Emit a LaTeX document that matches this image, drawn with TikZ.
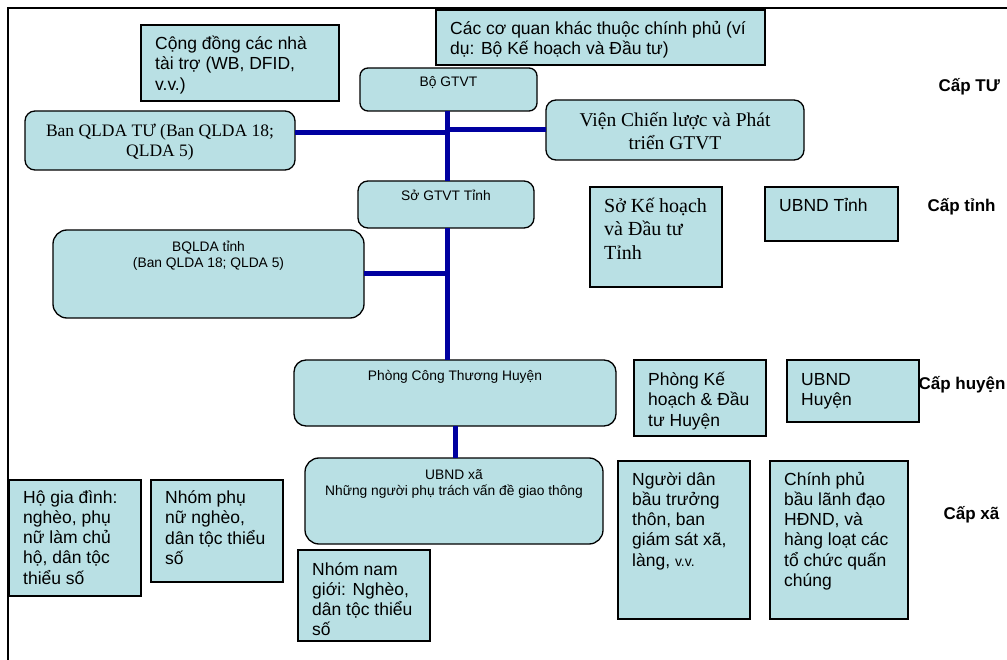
\documentclass[tikz,border=0pt]{standalone}
\usepackage{fontspec}
\setmainfont{Liberation Sans}
\newfontfamily\timesfont{Liberation Serif}
\usepackage{tikz}
\usetikzlibrary{positioning}

\definecolor{boxfill}{RGB}{185,224,228}
\definecolor{linkblue}{RGB}{0,0,160}

% fixed height of the first line in a box
\newcommand{\vs}[1][17pt]{\rule{0pt}{#1}}

\tikzset{
  box/.style={draw=black, line width=1.3pt, fill=boxfill, inner sep=0pt, outer sep=0pt, anchor=north west},
  rbox/.style={box, rounded corners=10pt},
  sz/.style 2 args={minimum width=#1pt, minimum height=#2pt},
  note/.style={anchor=north west, align=left, inner xsep=14pt, inner ysep=7.5pt,
    font=\fontsize{17.5}{20.2}\selectfont},
  serifnote/.style={note, inner ysep=5.5pt, font=\timesfont\fontsize{20}{23.3}\selectfont},
  small/.style={anchor=north, align=center, inner sep=6.5pt,
    font=\fontsize{13.8}{16}\selectfont},
  level/.style={anchor=base west, font=\bfseries\fontsize{17}{20}\selectfont},
  conn/.style={draw=linkblue, line width=5pt}
}

\begin{document}
\begin{tikzpicture}[x=1pt, y=-1pt]
  \useasboundingbox (0,0) rectangle (1007,660);
  % frame
  \draw[line width=2pt] (8,660) -- (8,8) -- (1007,8);

  % central level
  \node[box, sz={198}{76}] (donor) at (141,25) {};
  \node[note] (donor-t) at (donor.north west) {\vs Cộng đồng các nhà\\tài trợ (WB, DFID,\\v.v.)};
  \node[box, sz={329}{55}] (govt) at (436,10) {};
  \node[note] (govt-t) at (govt.north west) {\vs Các cơ quan khác thuộc chính phủ (ví\\dụ: Bộ Kế hoạch và Đầu tư)};
  \node[rbox, sz={177}{43}, rounded corners=8pt] (bo) at (360,68) {};
  \node[small] (bo-t) at (bo.north) {\vs[12pt]Bộ GTVT};
  \node[rbox, sz={270}{59}, align=center, font=\timesfont\fontsize{17.5}{20}\selectfont] (bq) at (25,111)
    {\vs[15pt]Ban QLDA TƯ (Ban QLDA 18;\\QLDA 5)};
  \node[rbox, sz={258}{60}, align=center, font=\timesfont\fontsize{19.5}{23}\selectfont] (vien) at (546,100)
    {\vs[17pt]Viện Chiến lược và Phát\\triển GTVT};

  % province level
  \node[rbox, sz={176}{47}] (so) at (358,181) {};
  \node[small, inner ysep=7pt] (so-t) at (so.north) {\vs[12pt]Sở GTVT Tỉnh};
  \node[rbox, sz={311}{88}, rounded corners=14pt] (bqt) at (53,230) {};
  \node[small, inner ysep=9.5pt] (bqt-t) at (bqt.north) {\vs[12pt]BQLDA tỉnh\\(Ban QLDA 18; QLDA 5)};
  \node[box, sz={132}{100}] (skh) at (590,187) {};
  \node[serifnote] (skh-t) at (skh.north west) {\vs[20pt]Sở Kế hoạch\\và Đầu tư\\Tỉnh};
  \node[box, sz={133}{54}] (ubt) at (765,187) {};
  \node[note] (ubt-t) at (ubt.north west) {\vs UBND Tỉnh};

  % district level
  \node[rbox, sz={322}{66}, rounded corners=12pt] (pct) at (294,360) {};
  \node[small, inner ysep=8pt] (pct-t) at (pct.north) {\vs[12pt]Phòng Công Thương Huyện};
  \node[box, sz={132}{76}] (pkh) at (634,360) {};
  \node[note, inner ysep=8.5pt] (pkh-t) at (pkh.north west) {\vs Phòng Kế\\hoạch \& Đầu\\tư Huyện};
  \node[box, sz={132}{62}] (ubh) at (787,360) {};
  \node[note, inner ysep=8.5pt] (ubh-t) at (ubh.north west) {\vs UBND\\Huyện};

  % commune level
  \node[rbox, sz={298}{86}, rounded corners=14pt] (xa) at (305,458) {};
  \node[small, inner ysep=9pt] (xa-t) at (xa.north) {\vs[12pt]UBND xã\\Những người phụ trách vấn đề giao thông};
  \node[box, sz={132}{158}] (dan) at (618,461) {};
  \node[note, inner ysep=7pt] (dan-t) at (dan.north west) {\vs Người dân\\bầu trưởng\\thôn, ban\\giám sát xã,\\làng, {\fontsize{14}{20}\selectfont v.v.}};
  \node[box, sz={138}{158}] (cp) at (770,461) {};
  \node[note, inner ysep=7pt] (cp-t) at (cp.north west) {\vs Chính phủ\\bầu lãnh đạo\\HĐND, và\\hàng loạt các\\tổ chức quấn\\chúng};
  \node[box, sz={132}{116}] (hgd) at (9,480) {};
  \node[note, inner ysep=6pt] (hgd-t) at (hgd.north west) {\vs Hộ gia đình:\\nghèo, phụ\\nữ làm chủ\\hộ, dân tộc\\thiểu số};
  \node[box, sz={132}{102}] (pn) at (151,480) {};
  \node[note, inner ysep=6.5pt] (pn-t) at (pn.north west) {\vs Nhóm phụ\\nữ nghèo,\\dân tộc thiểu\\số};
  \node[box, sz={132}{91}] (nam) at (298,550) {};
  \begin{scope}
    \clip (nam.north west) rectangle ([yshift=6pt]nam.south east);
    \node[note, inner ysep=8pt] (nam-t) at (nam.north west) {\vs Nhóm nam\\giới: Nghèo,\\dân tộc thiểu\\số};
  \end{scope}
  \draw[line width=1.3pt] (nam.south west) -- (nam.south east);

  % level labels
  \node[level] (lv-tu) at (935,91.5) {Cấp TƯ};
  \node[level] (lv-tinh) at (924,211.5) {Cấp tỉnh};
  \node[level] (lv-huyen) at (915,389.5) {Cấp huyện};
  \node[level] (lv-xa) at (940,519.5) {Cấp xã};

  % connectors
  \coordinate (spine) at (447,0);
  \coordinate (tujoin) at (447,133);
  \draw[conn] (bo.south -| spine) -- (so.north -| spine);
  \draw[conn] (so.south -| spine) -- (pct.north -| spine);
  \draw[conn] (bq.east |- tujoin) -- (tujoin);
  \draw[conn] (vien.west) -- (vien.west -| spine);
  \draw[conn] (bqt.east) -- (bqt.east -| spine);
  \draw[conn] (pct.south) -- (pct.south |- xa.north);
\end{tikzpicture}
\end{document}
